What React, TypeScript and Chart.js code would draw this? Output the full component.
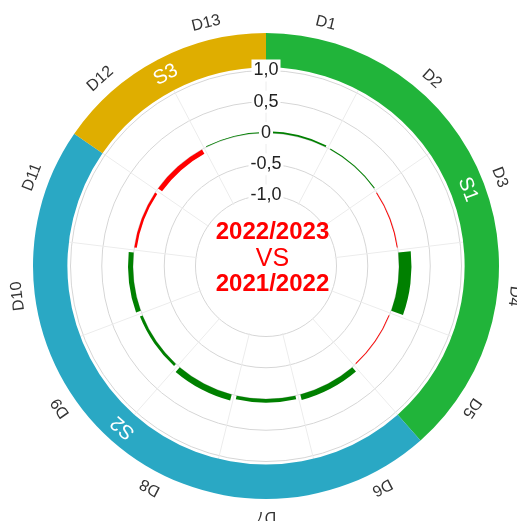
import React, { useEffect, useRef } from 'react';
import { Chart, registerables } from 'chart.js';

Chart.register(...registerables);

// ---- data ----
const categories = ['D1', 'D2', 'D3', 'D4', 'D5', 'D6', 'D7', 'D8', 'D9', 'D10', 'D11', 'D12', 'D13'];
const values = [0.03, 0.015, -0.015, 0.2, -0.015, 0.09, 0.06, 0.1, 0.045, 0.08, -0.04, -0.08, 0.015];
const tickValues = [-1, -0.5, 0, 0.5, 1];
const sectionNames = ['S1', 'S2', 'S3'];
const sectionSpans = [5, 6, 2];
const sectionColors = ['#21b43a', '#2aa8c4', '#dfae00'];
const centerLines = ['2022/2023', 'VS', '2021/2022'];

const SCALE_MIN = -2.128;
const SCALE_MAX = 1.6;
const RING_INNER = 1.05;
const POS_COLOR = '#008000';
const NEG_COLOR = '#ff0000';
const FONT = '"Liberation Sans", Arial, sans-serif';

const fmt = (v: number) => {
  if (v <= SCALE_MIN + 1e-9) return '';
  if (Math.abs(v) < 1e-9) return '0';
  return v.toFixed(1).replace('.', ',');
};

const arcGeometry = {
  id: 'arcGeometry',
  afterDatasetUpdate(chart: any, args: any) {
    const scale = chart.scales.r;
    const meta = args.meta;
    const r0 = scale.getDistanceFromCenterForValue(0);
    if (args.index === 1) {
      const rin = scale.getDistanceFromCenterForValue(RING_INNER);
      meta.data.forEach((arc: any) => {
        arc.innerRadius = rin;
      });
    } else {
      const gap = 2.5 / r0;
      meta.data.forEach((arc: any, i: number) => {
        const v = chart.data.datasets[0].data[i];
        const rv = scale.getDistanceFromCenterForValue(v);
        arc.innerRadius = Math.min(r0, rv);
        arc.outerRadius = Math.max(r0, rv);
        arc.startAngle += gap;
        arc.endAngle -= gap;
      });
    }
  },
  beforeDatasetsDraw(chart: any) {
    const scale = chart.scales.r;
    const ctx = chart.ctx;
    const rr = scale.getDistanceFromCenterForValue(-1) - 1.2;
    ctx.save();
    ctx.beginPath();
    ctx.arc(scale.xCenter, scale.yCenter, rr, 0, Math.PI * 2);
    ctx.fillStyle = '#ffffff';
    ctx.fill();
    ctx.restore();
  },
  afterDraw(chart: any) {
    const scale = chart.scales.r;
    const ctx = chart.ctx;
    const cx = scale.xCenter;
    const cy = scale.yCenter;
    const n = categories.length;
    const step = (Math.PI * 2) / n;
    const rMax = scale.getDistanceFromCenterForValue(SCALE_MAX);
    const rIn = scale.getDistanceFromCenterForValue(RING_INNER);

    ctx.save();
    ctx.textAlign = 'center';
    ctx.textBaseline = 'middle';
    // category labels
    ctx.fillStyle = '#333';
    ctx.font = `16px ${FONT}`;
    categories.forEach((lab, i) => {
      const a = (i + 0.5) * step;
      ctx.save();
      ctx.translate(cx, cy);
      ctx.rotate(a);
      ctx.fillText(lab, 0, -(rMax + 17));
      ctx.restore();
    });
    // section labels
    ctx.fillStyle = '#ffffff';
    ctx.font = `20px ${FONT}`;
    let acc = 0;
    sectionNames.forEach((s, i) => {
      const a = (acc + sectionSpans[i] / 2) * step;
      acc += sectionSpans[i];
      ctx.save();
      ctx.translate(cx, cy);
      ctx.rotate(a);
      ctx.fillText(s, 0, -(rIn + rMax) / 2);
      ctx.restore();
    });
    // center text
    ctx.fillStyle = '#ff0000';
    const tx = cx + 6.5;
    ctx.font = `bold 24px ${FONT}`;
    ctx.fillText(centerLines[0], tx, cy - 34);
    ctx.font = `25px ${FONT}`;
    ctx.fillText(centerLines[1], tx, cy - 7);
    ctx.font = `bold 24px ${FONT}`;
    ctx.fillText(centerLines[2], tx, cy + 18);
    ctx.restore();
  },
};

export default function App() {
  const ref = useRef<HTMLCanvasElement | null>(null);
  useEffect(() => {
    if (!ref.current) return;
    const chart = new Chart(ref.current, {
      type: 'polarArea',
      data: {
        labels: categories,
        datasets: [
          {
            data: values,
            backgroundColor: values.map((v) => (v >= 0 ? POS_COLOR : NEG_COLOR)),
            borderWidth: 0,
          },
          {
            data: sectionNames.map(() => SCALE_MAX),
            backgroundColor: sectionColors,
            borderWidth: 0,
            angle: sectionSpans.map((s) => (s * 360) / categories.length),
          } as any,
        ],
      },
      options: {
        animation: false,
        responsive: true,
        maintainAspectRatio: false,
        layout: { padding: { left: 22, right: 6, top: 22, bottom: 10 } },
        font: { family: FONT },
        plugins: {
          legend: { display: false },
          tooltip: { enabled: false },
        },
        scales: {
          r: {
            min: SCALE_MIN,
            max: SCALE_MAX,
            startAngle: 0,
            afterBuildTicks: (s: any) => {
              s.ticks = [SCALE_MIN, ...tickValues].map((v) => ({ value: v }));
            },
            ticks: {
              z: 1,
              color: '#222',
              font: { size: 18, family: FONT },
              showLabelBackdrop: true,
              backdropColor: '#ffffff',
              backdropPadding: 2,
              callback: (v: any) => fmt(Number(v)),
            },
            grid: { circular: true, color: '#d6d6d6', lineWidth: 1 },
            angleLines: { display: true, color: '#ececec', lineWidth: 1 },
            pointLabels: { display: false },
          } as any,
        },
      } as any,
      plugins: [arcGeometry],
    });
    return () => chart.destroy();
  }, []);
  return (
    <div style={{ position: 'fixed', left: 0, top: 0, width: 517, height: 521 }}>
      <canvas ref={ref} />
    </div>
  );
}
